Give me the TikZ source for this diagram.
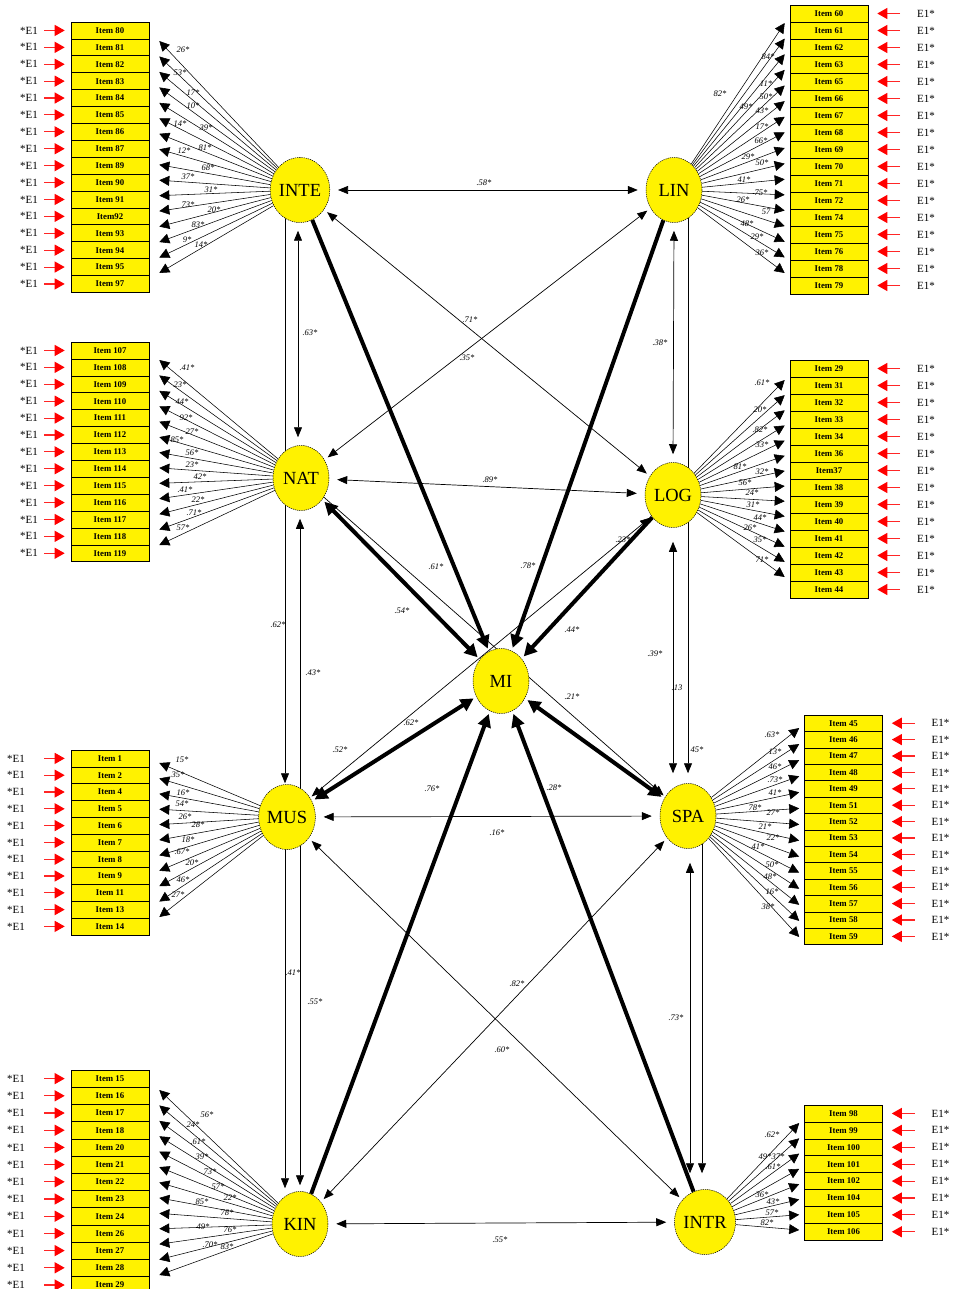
\documentclass[tikz,border=0pt]{standalone}
\usepackage{fontspec}
\setmainfont{Liberation Serif}
\usetikzlibrary{arrows.meta,shapes.geometric,calc}
\pgfdeclarelayer{bg}
\pgfsetlayers{bg,main}
% left block: #1 prefix, #2 latent, #3 top, #4 pitch, #5 tip y0, #6 tip y1, #7 n-1, #8 E1 right x, #9 labels
\newcommand{\lblock}[9]{%
 \foreach \q [count=\k from 0] in {#9} {
   \pgfmathsetmacro{\cy}{#3+(\k+0.5)*#4}
   \pgfmathsetmacro{\dy}{\cy-(#5+\k*(#6-#5)/#7)}
   \pgfmathsetmacro{\sh}{44-#8}
   \node[itembox, minimum height=#4 pt] (#1\k) at (110,\cy) {\q};
   \node[eone, anchor=east] (#1e\k) at (#8,\cy) {*E1};
   \draw[redR, shorten <=\sh pt, shorten >=6pt] (#1e\k.east) -- (#1\k.west);
   \begin{pgfonlayer}{bg}
     \draw[fan] (#2) -- ([xshift=10pt, yshift=\dy pt]#1\k.east);
   \end{pgfonlayer}
 }
}
% right block: #8 box centre x
\newcommand{\rblock}[9]{%
 \foreach \q [count=\k from 0] in {#9} {
   \pgfmathsetmacro{\cy}{#3+(\k+0.5)*#4}
   \pgfmathsetmacro{\dy}{\cy-(#5+\k*(#6-#5)/#7)}
   \pgfmathsetmacro{\ex}{#8+88}
   \node[itembox, minimum height=#4 pt] (#1\k) at (#8,\cy) {\q};
   \node[eone, anchor=west] (#1e\k) at (\ex,\cy) {E1*};
   \draw[redR, shorten <=17pt, shorten >=9pt] (#1e\k.west) -- (#1\k.east);
   \begin{pgfonlayer}{bg}
     \draw[fan] (#2) -- ([xshift=-5pt, yshift=\dy pt]#1\k.west);
   \end{pgfonlayer}
 }
}
\begin{document}
\begin{tikzpicture}[x=1pt,y=-1pt,
  lat/.style={ellipse, draw, dashed, dash pattern=on 1.3pt off 0.9pt, line width=0.5pt, fill=yellow, minimum width=56pt, minimum height=65pt, inner sep=0pt, font=\fontsize{18.5}{18.5}\selectfont},
  itembox/.style={draw, fill=yellow, line width=0.6pt, minimum width=78pt, inner sep=0pt, font=\bfseries\fontsize{8.8}{9}\selectfont},
  eone/.style={inner sep=0pt, font=\fontsize{11}{11}\selectfont},
  cf/.style={inner sep=0pt, font=\itshape\fontsize{8.5}{9}\selectfont},
  redR/.style={draw=red!85, line width=1.1pt, -{Triangle[length=10pt,width=11pt,color=red]}},
  fan/.style={line width=0.55pt, -{Triangle[length=10pt,width=10pt]}},
  thinbi/.style={line width=0.7pt, {Triangle[length=10pt,width=8pt]}-{Triangle[length=10pt,width=8pt]}, shorten <=8pt, shorten >=8pt},
  thinone/.style={line width=0.7pt, -{Triangle[length=10pt,width=8pt]}},
  thickone/.style={line width=4pt, -{Triangle[length=13pt,width=13pt]}, shorten >=3pt},
  thickbi/.style={line width=4pt, {Triangle[length=13pt,width=13pt]}-{Triangle[length=13pt,width=13pt]}, shorten >=3pt, shorten <=3pt},
]
\useasboundingbox (0,0) rectangle (953,1289);
\begin{pgfonlayer}{bg}
\fill[white] (0,0) rectangle (953,1289);
\end{pgfonlayer}

% latent variables
\node[lat] (INTE) at (300,190) {INTE};
\node[lat] (LIN) at (674,190) {LIN};
\node[lat] (NAT) at (301,478) {NAT};
\node[lat] (LOG) at (673,495) {LOG};
\node[lat] (MI) at (501,681) {MI};
\node[lat] (MUS) at (287,817) {MUS};
\node[lat] (SPA) at (688,816) {SPA};
\node[lat] (KIN) at (300,1224) {KIN};
\node[lat] (INTR) at (705,1222) {INTR};

% item blocks
\lblock{tl}{INTE}{22}{16.9}{41}{273}{15}{38}{Item 80,Item 81,Item 82,Item 83,Item 84,Item 85,Item 86,Item 87,Item 89,Item 90,Item 91,Item92,Item 93,Item 94,Item 95,Item 97}
\lblock{na}{NAT}{342}{16.9}{360}{545}{12}{38}{Item 107,Item 108,Item 109,Item 110,Item 111,Item 112,Item 113,Item 114,Item 115,Item 116,Item 117,Item 118,Item 119}
\lblock{mu}{MUS}{750}{16.8}{763}{917}{10}{25}{Item 1,Item 2,Item 4,Item 5,Item 6,Item 7,Item 8,Item 9,Item 11,Item 13,Item 14}
\lblock{ki}{KIN}{1070}{17.2}{1090}{1275}{12}{25}{Item 15,Item 16,Item 17,Item 18,Item 20,Item 21,Item 22,Item 23,Item 24,Item 26,Item 27,Item 28,Item 29}
\rblock{tr}{LIN}{5}{17}{23}{273}{16}{829}{Item 60,Item 61,Item 62,Item 63,Item 65,Item 66,Item 67,Item 68,Item 69,Item 70,Item 71,Item 72,Item 74,Item 75,Item 76,Item 78,Item 79}
\rblock{lo}{LOG}{360}{17}{380}{577}{13}{829}{Item 29,Item 31,Item 32,Item 33,Item 34,Item 36,Item37,Item 38,Item 39,Item 40,Item 41,Item 42,Item 43,Item 44}
\rblock{sp}{SPA}{715}{16.4}{728}{937}{13}{843.5}{Item 45,Item 46,Item 47,Item 48,Item 49,Item 51,Item 52,Item 53,Item 54,Item 55,Item 56,Item 57,Item 58,Item 59}
\rblock{ir}{INTR}{1105}{16.9}{1123}{1230}{7}{843.5}{Item 98,Item 99,Item 100,Item 101,Item 102,Item 104,Item 105,Item 106}

% structural paths
\begin{pgfonlayer}{bg}
\draw[thinbi] (INTE) -- (LIN);
\draw[thinbi] ([xshift=-2pt]INTE.south) -- ([xshift=-3pt]NAT.north);
\draw[thinone, shorten >=1pt] ([xshift=-15pt]INTE.center) -- ([xshift=-2pt]MUS.north);
\draw[thinone, shorten >=8pt] ([xshift=13pt]MUS.center) -- ([xshift=-1pt]NAT.south);
\draw[thinone, shorten >=3pt] ([xshift=-2pt]MUS.center) -- ([xshift=-15pt]KIN.north);
\draw[thinone, shorten >=6pt] ([xshift=13pt]MUS.center) -- (KIN.north);
\draw[thinbi] (LIN.south) -- (LOG.north);
\draw[thinone, shorten >=10pt] ([xshift=14pt]LIN.center) -- (SPA.north);
\draw[thinbi, shorten <=14pt, shorten >=10pt] (LOG.south) -- ([xshift=-15pt]SPA.north);
\draw[thinbi, shorten <=14pt, shorten >=16pt] ([xshift=2pt]SPA.south) -- ([xshift=-15pt]INTR.north);
\draw[thinone, shorten >=16pt] ([xshift=14pt]SPA.center) -- ([xshift=-3pt]INTR.north);
\draw[thinbi] (NAT) -- (LOG);
\draw[thinbi] (MUS) -- (SPA);
\draw[thinbi] (KIN) -- (INTR);
\draw[thinbi, shorten <=4pt, shorten >=4pt] (INTE) -- (LOG);
\draw[thinbi, shorten <=4pt, shorten >=4pt] (LIN) -- (NAT);
\draw[thinbi, shorten <=4pt, shorten >=4pt] (MUS) -- (INTR);
\draw[thinbi, shorten <=4pt, shorten >=4pt] (SPA) -- (KIN);
\draw[thinone, shorten >=2pt] (NAT.-40) -- (SPA.140);
\draw[thinbi, shorten <=2pt, shorten >=2pt] (LOG.-135) -- (MUS.40);
\draw[thickone] (INTE) -- (MI);
\draw[thickone] (LIN) -- (MI);
\draw[thickone] (LOG) -- (MI);
\draw[thickone] (KIN) -- (MI);
\draw[thickone] (INTR) -- (MI);
\draw[thickbi] (NAT) -- (MI);
\draw[thickbi] (MUS) -- (MI);
\draw[thickbi] (SPA) -- (MI);
\end{pgfonlayer}

% coefficient labels
\foreach \lx/\ly/\lt [count=\c] in {
 484/183/.58*, 310/333/.63*, 470/320/.71*, 467/358/.35*, 660/343/.38*, 490/480/.89*,
 623/540/.23*, 436/567/.61*, 528/566/.78*, 402/611/.54*, 572/630/.44*, 278/625/.62*,
 313/673/.43*, 655/654/.39*, 677/688/.13, 572/697/.21*, 411/723/.62*, 340/750/.52*,
 697/750/45*, 432/789/.76*, 554/788/.28*, 497/833/.16*, 293/973/.41*, 315/1002/.55*,
 517/984/.82*, 676/1018/.73*, 502/1050/.60*, 500/1240/.55*}
 \node[cf] (sl\c) at (\lx,\ly) {\lt};

\foreach \lx/\ly/\lt [count=\c] in {
 183/50/26*, 180/73/53*, 193/93/17*, 193/106/10*, 180/124/14*, 206/128/39*, 184/151/12*, 205/148/81*,
 208/168/68*, 188/177/37*, 211/190/31*, 188/205/73*, 214/210/20*, 198/225/83*, 187/240/9*, 201/245/14*,
 720/94/82*, 768/57/84*, 766/84/11*, 766/97/50*, 746/107/49*, 762/111/43*, 762/127/17*, 761/141/66*,
 748/157/29*, 762/163/50*, 744/180/41*, 761/193/75*, 743/200/26*, 766/212/57, 747/224/48*, 757/237/29*, 762/253/36*,
 187/368/.41*, 180/385/23*, 182/402/44*, 186/418/92*, 192/432/27*, 177/440/85*, 192/453/56*,
 192/465/23*, 200/477/42*, 185/490/.41*, 198/500/22*, 194/513/.71*, 183/528/57*,
 762/383/.61*, 760/410/20*, 760/430/.82*, 762/445/33*, 740/467/81*, 762/472/32*, 745/483/56*,
 752/493/24*, 753/505/31*, 760/518/44*, 750/528/26*, 760/540/35*, 762/560/71*,
 182/760/15*, 178/775/35*, 183/793/16*, 182/804/54*, 185/817/26*, 198/825/28*, 188/840/18*,
 182/852/.67*, 192/863/20*, 183/880/46*, 178/895/27*,
 772/735/.63*, 775/752/13*, 775/767/46*, 775/780/.73*, 775/793/41*, 755/808/78*, 773/813/27*,
 765/827/21*, 773/838/22*, 758/847/41*, 772/865/50*, 770/877/48*, 772/892/16*, 768/907/38*,
 207/1115/56*, 193/1125/24*, 198/1142/.61*, 202/1157/39*, 210/1172/73*, 218/1187/57*, 202/1202/85*,
 230/1198/22*, 227/1213/78*, 203/1227/49*, 230/1230/76*, 210/1245/.70*, 227/1247/83*,
 772/1135/.62*, 765/1157/49*, 778/1157/37*, 773/1167/.61*, 762/1195/36*, 773/1202/43*, 772/1213/57*, 767/1223/82*}
 \node[cf] (fl\c) at (\lx,\ly) {\lt};
\end{tikzpicture}
\end{document}
